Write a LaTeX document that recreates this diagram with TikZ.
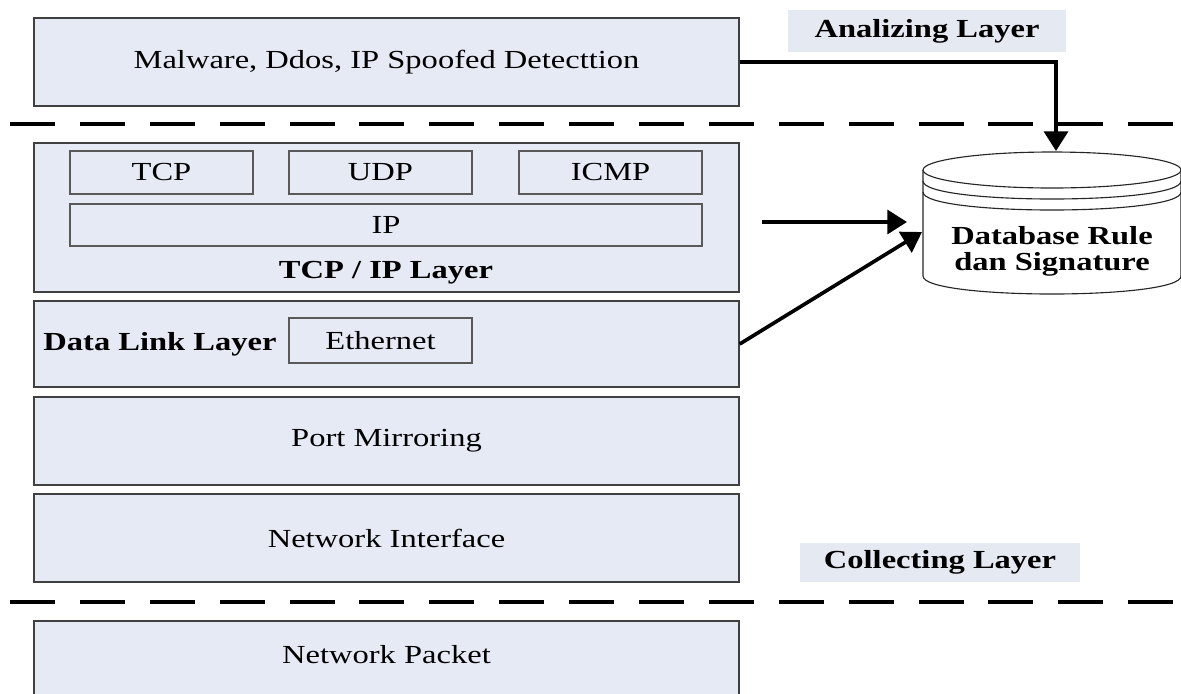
\documentclass[tikz,border=0pt]{standalone}
\usepackage{fontspec}
\setmainfont{Liberation Serif}[FakeStretch=1.25]
\usetikzlibrary{calc,positioning,arrows.meta}
\usepackage{xcolor}
\definecolor{layerfill}{RGB}{230,234,245}
\definecolor{tagfill}{RGB}{228,233,242}
\newcommand{\lyrfont}{\fontsize{18.5}{18.5}\selectfont}

\begin{document}
\begin{tikzpicture}[x=0.025cm, y=-0.025cm,
    layer/.style={draw=black!75, line width=0.9pt, fill=layerfill, minimum width=17.625cm, inner sep=0pt, font=\lyrfont},
    proto/.style={draw=black!65, line width=0.9pt, fill=layerfill, minimum width=4.575cm, minimum height=1.075cm, inner sep=0pt, font=\lyrfont},
    tag/.style={fill=tagfill, inner sep=0pt, font=\lyrfont\bfseries},
    sep/.style={line width=2.8pt, dash pattern=on 32pt off 17.7pt},
    flow/.style={line width=2.6pt, -{Triangle[length=14pt,width=17pt]}},
    cyl/.style={line width=0.8pt, draw=black!85}]

    \useasboundingbox (0,0) rectangle (1181,693);

    % Draw the layer boxes
    \node[layer, minimum height=2.2cm] (mal) at (386.5,62) {Malware, Ddos, IP Spoofed Detecttion};
    \node[layer, minimum height=3.725cm] (tcpip) at (386.5,217.5) {};
    \node[layer, minimum height=2.15cm] (dll) at (386.5,344) {};
    \node[layer, minimum height=2.2cm] (pm) at (386.5,441) {Port Mirroring};
    \node[layer, minimum height=2.2cm] (ni) at (386.5,538) {Network Interface};
    \node[layer, minimum height=2.2cm] (np) at (386.5,665) {};
    \node[font=\lyrfont] (nptext) at (386.5,655) {Network Packet};

    % Protocols inside the TCP / IP layer
    \foreach \name/\cx/\txt in {tcp/161.5/TCP, udp/380.5/UDP, icmp/610.5/ICMP} {
        \node[proto] (\name) at (\cx,172.5) {\txt};
    }
    \node[proto, minimum width=15.8cm, minimum height=1.05cm] (ip) at (386,225) {IP};
    \node[font=\lyrfont\bfseries] (tcpiplbl) at (386,273) {TCP / IP Layer};

    % Data link layer
    \node[font=\lyrfont\bfseries] (dlllbl) at (160,344) {Data Link Layer};
    \node[proto, minimum height=1.125cm] (eth) at (380.5,340.5) {Ethernet};

    % Layer names on the right
    \node[tag, minimum width=6.95cm, minimum height=1.05cm] (ana) at (927,31) {Analizing Layer};
    \node[tag, minimum width=7cm, minimum height=0.975cm] (col) at (940,562) {Collecting Layer};

    % Draw two dashed separators
    \foreach \yy in {124,602} {
        \draw[sep] (10,\yy) -- (1195,\yy);
    }

    % Draw the database cylinder
    \draw[cyl, fill=white] (923,170) -- (923,276) .. controls (923,300) and (1181,300) .. (1181,276) -- (1181,170);
    \draw[cyl, fill=white] (1052,170) ellipse [x radius=129, y radius=18];
    \foreach \dy in {11,22} {
        \draw[cyl] (923,{170+\dy}) .. controls (923,{194+\dy}) and (1181,{194+\dy}) .. (1181,{170+\dy});
    }
    \node[font=\lyrfont\bfseries, align=center] (db) at (1052,251) {Database Rule\\dan Signature};

    \coordinate (dbtop) at (1056,151);
    \coordinate (ipout) at (762,222);
    \coordinate (dbin) at (907,222);
    \coordinate (dbside) at (922,232);

    % Arrows to the database
    \draw[flow] (mal.east) -| (dbtop);
    \draw[flow] (ipout) -- (dbin);
    \draw[flow] (dll.east) -- (dbside);

\end{tikzpicture}
\end{document}
